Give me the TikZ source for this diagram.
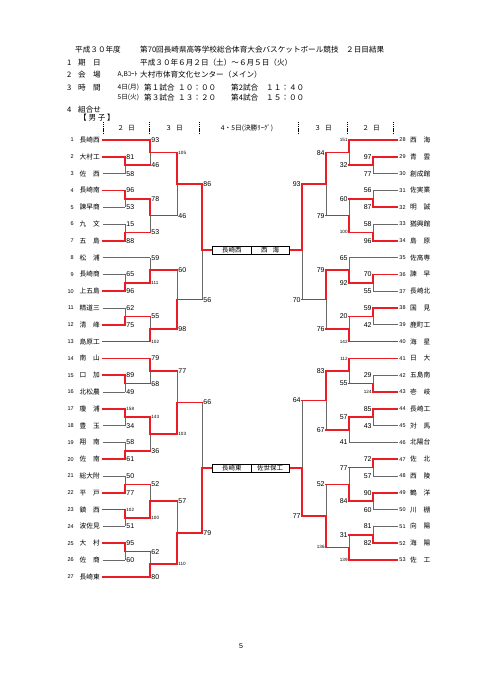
\documentclass[tikz,border=0pt]{standalone}
\usepackage{fontspec}
\setmainfont{Noto Sans CJK JP}
\newfontfamily\numf{Liberation Sans}
\pgfdeclarelayer{top}
\pgfsetlayers{main,top}
\definecolor{wred}{RGB}{235,28,36}
\definecolor{lgray}{RGB}{105,105,105}
\tikzset{
  gl/.style={draw=lgray, line width=0.8pt},
  rl/.style={draw=wred, line width=1.6pt, line cap=rect, line join=miter},
  numst/.style={inner sep=0pt, font=\numf\fontsize{5.5}{6}\selectfont},
  namest/.style={inner sep=0pt, font=\fontsize{6.7}{7}\selectfont},
  scst/.style={inner sep=0pt, font=\numf\fontsize{7}{7}\selectfont},
  hd/.style={inner sep=0pt, anchor=west, font=\fontsize{7.6}{8}\selectfont},
  hds/.style={inner sep=0pt, anchor=west, font=\fontsize{6.6}{7}\selectfont},
  sep/.style={draw=black, line width=0.6pt, dash pattern=on 1.2pt off 0.9pt},
  fbox/.style={draw=black, line width=0.8pt, inner sep=0pt, minimum height=8pt, font=\fontsize{6.5}{7}\selectfont, fill=white},
}
\newcommand\sm[1]{{\fontsize{4.6}{5}\selectfont #1}}
\newcommand\two[2]{#1\hfill#2}
% team on left: y, num, name, endx, style
\newcommand\tL[5]{%
  \node[numst,anchor=east] (nL#2) at (74,#1) {#2};
  \node[namest,anchor=west] (L#2) at (79.5,#1) {\makebox[20pt][l]{#3}};
  \draw[#5] (102.5,#1) -- (#4,#1);
}
\newcommand\tR[5]{%
  \node[numst,anchor=east] (nR#2) at (405.8,#1) {#2};
  \node[namest,anchor=west] (R#2) at (410,#1) {\makebox[20pt][l]{#3}};
  \draw[#5] (397.5,#1) -- (#4,#1);
}
% match: side, x, y1, y2, ywin, ymid, xnext, s1, s2
\newcommand\mt[9]{%
  \draw[gl] (#2,#3) -- (#2,#4);
  \begin{pgfonlayer}{top}
  \draw[rl] (#2,#5) -- (#2,#6) -- (#7,#6);
  \end{pgfonlayer}
  \if L#1
    \node[scst,anchor=west] at (#2+1.2,#3) {#8};
    \node[scst,anchor=west] at (#2+1.2,#4) {#9};
  \else
    \node[scst,anchor=east] at (#2-1.2,#3) {#8};
    \node[scst,anchor=east] at (#2-1.2,#4) {#9};
  \fi
}
\begin{document}
\begin{tikzpicture}[x=1pt,y=-1pt]
\fill[white] (0,0) rectangle (481,680);
\useasboundingbox (0,0) rectangle (481,680);

% ---------- header ----------
\node[hd] (h1) at (75,50) {平成３０年度};
\node[hd] (h2) at (140,50) {第70回長崎県高等学校総合体育大会バスケットボール競技　２日目結果};
\node[hd] (a1) at (67,62.5) {1};
\node[hd] (a2) at (78,62.5) {期};
\node[hd] (a3) at (93,62.5) {日};
\node[hd] (a4) at (140,62.5) {平成３０年６月２日（土）～６月５日（火）};
\node[hd] (b1) at (67,74.5) {2};
\node[hd] (b2) at (78,74.5) {会};
\node[hd] (b3) at (93,74.5) {場};
\node[hds] (b4) at (117.5,74.5) {A,Bｺｰﾄ};
\node[hd] (b5) at (140,74.5) {大村市体育文化センター（メイン）};
\node[hd] (c1) at (67,87.5) {3};
\node[hd] (c2) at (78,87.5) {時};
\node[hd] (c3) at (93,87.5) {間};
\node[hds] (c4) at (117.5,87.5) {4日(月)};
\node[hd] (c5) at (144,87.5) {第１試合};
\node[hd] (c6) at (178,87.5) {１０：００};
\node[hd] (c7) at (231,87.5) {第2試合};
\node[hd] (c8) at (266,87.5) {１１：４０};
\node[hds] (d4) at (117.5,97.8) {5日(火)};
\node[hd] (d5) at (144,97.8) {第３試合};
\node[hd] (d6) at (178,97.8) {１３：２０};
\node[hd] (d7) at (231,97.8) {第4試合};
\node[hd] (d8) at (266,97.8) {１５：００};
\node[hd] (e1) at (67,109.5) {4};
\node[hd] (e2) at (78,109.5) {組合せ};
\node[hd] (e3) at (79,117.8) {【 男 子 】};

% column separators and labels
\foreach \xx in {103,149,199,298,347,393}
  \draw[sep] (\xx,122) -- (\xx,134);
\node[namest] (k1) at (126,128) {２\hspace{4pt}日};
\node[namest] (k2) at (174,128) {３\hspace{4pt}日};
\node[namest] (k3) at (247,128) {4・5日(決勝ﾘｰｸﾞ)};
\node[namest] (k4) at (323,128) {３\hspace{4pt}日};
\node[namest] (k5) at (371,128) {２\hspace{4pt}日};

% ---------- left teams ----------
\tL{140.0}{1}{長崎西}{150}{rl}
\tL{156.8}{2}{大村工}{125}{rl}
\tL{173.6}{3}{\two{佐}{西}}{125}{gl}
\tL{190.4}{4}{長崎南}{125}{rl}
\tL{207.2}{5}{諫早商}{125}{gl}
\tL{224.0}{6}{\two{九}{文}}{125}{gl}
\tL{240.8}{7}{\two{五}{島}}{125}{rl}
\tL{257.6}{8}{\two{松}{浦}}{150}{gl}
\tL{274.4}{9}{長崎商}{125}{gl}
\tL{291.2}{10}{上五島}{125}{rl}
\tL{308.0}{11}{精道三}{125}{gl}
\tL{324.8}{12}{\two{清}{峰}}{125}{rl}
\tL{341.6}{13}{島原工}{150}{rl}
\tL{358.4}{14}{\two{南}{山}}{150}{rl}
\tL{375.2}{15}{\two{口}{加}}{125}{rl}
\tL{392.0}{16}{北松農}{125}{gl}
\tL{408.8}{17}{\two{瓊}{浦}}{125}{rl}
\tL{425.6}{18}{\two{豊}{玉}}{125}{gl}
\tL{442.4}{19}{\two{翔}{南}}{125}{gl}
\tL{459.2}{20}{\two{佐}{南}}{125}{rl}
\tL{476.0}{21}{総大附}{125}{gl}
\tL{492.8}{22}{\two{平}{戸}}{125}{rl}
\tL{509.6}{23}{\two{鎮}{西}}{125}{rl}
\tL{526.4}{24}{波佐見}{125}{gl}
\tL{543.2}{25}{\two{大}{村}}{125}{rl}
\tL{560.0}{26}{\two{佐}{商}}{125}{gl}
\tL{576.8}{27}{長崎東}{150}{rl}

% ---------- right teams ----------
\tR{140.0}{28}{\two{西}{海}}{349}{rl}
\tR{156.8}{29}{\two{青}{雲}}{373}{rl}
\tR{173.6}{30}{創成館}{373}{gl}
\tR{190.4}{31}{佐実業}{373}{gl}
\tR{207.2}{32}{\two{明}{誠}}{373}{rl}
\tR{224.0}{33}{猶興館}{373}{gl}
\tR{240.8}{34}{\two{島}{原}}{373}{rl}
\tR{257.6}{35}{佐高専}{349}{gl}
\tR{274.4}{36}{\two{諫}{早}}{373}{rl}
\tR{291.2}{37}{長崎北}{373}{gl}
\tR{308.0}{38}{\two{国}{見}}{373}{rl}
\tR{324.8}{39}{鹿町工}{373}{gl}
\tR{341.6}{40}{\two{海}{星}}{349}{rl}
\tR{358.4}{41}{\two{日}{大}}{349}{rl}
\tR{375.2}{42}{五島南}{373}{gl}
\tR{392.0}{43}{\two{壱}{岐}}{373}{rl}
\tR{408.8}{44}{長崎工}{373}{rl}
\tR{425.6}{45}{\two{対}{馬}}{373}{gl}
\tR{442.4}{46}{北陽台}{349}{gl}
\tR{459.2}{47}{\two{佐}{北}}{373}{rl}
\tR{476.0}{48}{\two{西}{陵}}{373}{gl}
\tR{492.8}{49}{\two{鶴}{洋}}{373}{rl}
\tR{509.6}{50}{\two{川}{棚}}{373}{gl}
\tR{526.4}{51}{\two{向}{陽}}{373}{gl}
\tR{543.2}{52}{\two{海}{陽}}{373}{rl}
\tR{560.0}{53}{\two{佐}{工}}{349}{rl}

% ---------- left matches ----------
\mt{L}{125}{156.8}{173.6}{156.8}{165.2}{150}{81}{58}
\mt{L}{125}{190.4}{207.2}{190.4}{198.8}{150}{96}{53}
\mt{L}{125}{224.0}{240.8}{240.8}{232.4}{150}{15}{88}
\mt{L}{125}{274.4}{291.2}{291.2}{282.8}{150}{65}{96}
\mt{L}{125}{308.0}{324.8}{324.8}{316.4}{150}{62}{75}
\mt{L}{125}{375.2}{392.0}{375.2}{383.6}{150}{89}{49}
\mt{L}{125}{408.8}{425.6}{408.8}{417.2}{150}{\sm{158}}{34}
\mt{L}{125}{442.4}{459.2}{459.2}{450.8}{150}{58}{61}
\mt{L}{125}{476.0}{492.8}{492.8}{484.4}{150}{50}{77}
\mt{L}{125}{509.6}{526.4}{509.6}{518.0}{150}{\sm{102}}{51}
\mt{L}{125}{543.2}{560.0}{543.2}{551.6}{150}{95}{60}
\mt{L}{150}{140.0}{165.2}{140.0}{152.6}{177}{93}{46}
\mt{L}{150}{198.8}{232.4}{198.8}{215.6}{177}{78}{53}
\mt{L}{150}{257.6}{282.8}{282.8}{270.2}{177}{59}{\sm{111}}
\mt{L}{150}{316.4}{341.6}{341.6}{329.0}{177}{55}{\sm{102}}
\mt{L}{150}{358.4}{383.6}{358.4}{371.0}{177}{79}{68}
\mt{L}{150}{417.2}{450.8}{417.2}{434.0}{177}{\sm{143}}{36}
\mt{L}{150}{484.4}{518.0}{518.0}{501.2}{177}{52}{\sm{100}}
\mt{L}{150}{551.6}{576.8}{576.8}{564.2}{177}{62}{80}
\mt{L}{177}{152.6}{215.6}{152.6}{184.1}{202}{\sm{105}}{46}
\mt{L}{177}{270.2}{329.0}{329.0}{299.6}{202}{60}{98}
\mt{L}{177}{371.0}{434.0}{434.0}{402.5}{202}{77}{\sm{103}}
\mt{L}{177}{501.2}{564.2}{564.2}{532.7}{202}{57}{\sm{110}}
\mt{L}{202}{184.1}{299.6}{184.1}{250}{213}{86}{56}
\mt{L}{202}{402.5}{532.7}{532.7}{468}{213}{66}{79}

% ---------- right matches ----------
\mt{R}{373}{156.8}{173.6}{156.8}{165.2}{349}{97}{77}
\mt{R}{373}{190.4}{207.2}{207.2}{198.8}{349}{56}{87}
\mt{R}{373}{224.0}{240.8}{240.8}{232.4}{349}{58}{96}
\mt{R}{373}{274.4}{291.2}{274.4}{282.8}{349}{70}{55}
\mt{R}{373}{308.0}{324.8}{308.0}{316.4}{349}{59}{42}
\mt{R}{373}{375.2}{392.0}{392.0}{383.6}{349}{29}{\sm{124}}
\mt{R}{373}{408.8}{425.6}{408.8}{417.2}{349}{85}{43}
\mt{R}{373}{459.2}{476.0}{459.2}{467.6}{349}{72}{57}
\mt{R}{373}{492.8}{509.6}{492.8}{501.2}{349}{90}{60}
\mt{R}{373}{526.4}{543.2}{543.2}{534.8}{349}{81}{82}
\mt{R}{349}{140.0}{165.2}{140.0}{152.6}{326}{\sm{151}}{32}
\mt{R}{349}{198.8}{232.4}{232.4}{215.6}{326}{60}{\sm{100}}
\mt{R}{349}{257.6}{282.8}{282.8}{270.2}{326}{65}{92}
\mt{R}{349}{316.4}{341.6}{341.6}{329.0}{326}{20}{\sm{142}}
\mt{R}{349}{358.4}{383.6}{358.4}{371.0}{326}{\sm{112}}{55}
\mt{R}{349}{417.2}{442.4}{417.2}{429.8}{326}{57}{41}
\mt{R}{349}{467.6}{501.2}{501.2}{484.4}{326}{77}{84}
\mt{R}{349}{534.8}{560.0}{560.0}{547.4}{326}{31}{\sm{139}}
\mt{R}{326}{152.6}{215.6}{152.6}{184.1}{302}{84}{79}
\mt{R}{326}{270.2}{329.0}{270.2}{299.6}{302}{79}{76}
\mt{R}{326}{371.0}{429.8}{371.0}{400.4}{302}{83}{67}
\mt{R}{326}{484.4}{547.4}{547.4}{515.9}{302}{52}{\sm{136}}
\mt{R}{302}{184.1}{299.6}{184.1}{250}{289}{93}{70}
\mt{R}{302}{400.4}{515.9}{515.9}{468}{289}{64}{77}

% ---------- finals boxes ----------
\begin{pgfonlayer}{top}
\node[fbox, minimum width=38.3pt] (F1) at (231.85,250) {長崎西};
\node[fbox, minimum width=38pt] (F2) at (270,250) {西\hspace{5pt}海};
\node[fbox, minimum width=38.3pt] (F3) at (231.85,468) {長崎東};
\node[fbox, minimum width=38pt] (F4) at (270,468) {佐世保工};
\end{pgfonlayer}

% page number
\node[scst] (pg) at (241,646) {5};
\end{tikzpicture}
\end{document}
